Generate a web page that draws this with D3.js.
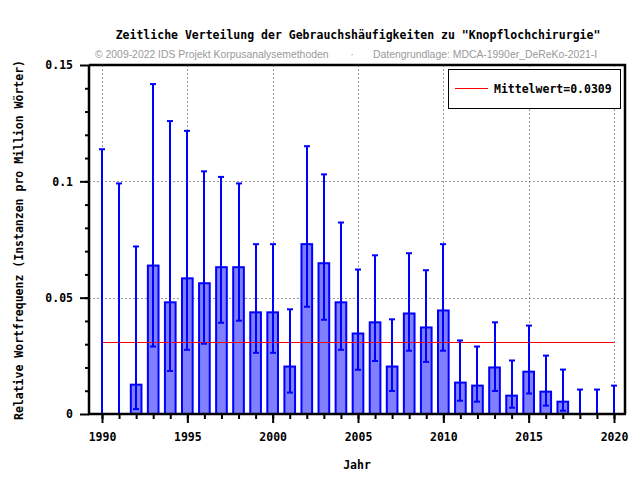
<!DOCTYPE html>
<html>
<head>
<meta charset="utf-8">
<script src="https://cdn.jsdelivr.net/npm/d3@7"></script>
<style>
  body { margin: 0; background: #fff; }
  svg { display: block; }
  .mono { font-family: "DejaVu Sans Mono", "Liberation Mono", monospace; font-weight: bold; font-size: 11.5px; }
</style>
</head>
<body>
<div id="chart"></div>
<script>
// data
const years = [1990,1991,1992,1993,1994,1995,1996,1997,1998,1999,
  2000,2001,2002,2003,2004,2005,2006,2007,2008,2009,
  2010,2011,2012,2013,2014,2015,2016,2017,2018,2019,2020];
const freq = [0,0,0.0126,0.0638,0.0480,0.0583,0.0562,0.0631,0.0631,0.0437,
  0.0437,0.0204,0.0730,0.0648,0.0480,0.0346,0.0394,0.0204,0.0432,0.0372,
  0.0445,0.0135,0.0122,0.0200,0.0079,0.0182,0.0096,0.0053,0,0,0];
const lower = [0,0,0.0021,0.0290,0.0185,0.0276,0.0302,0.0392,0.0401,0.0263,
  0.0263,0.0092,0.0461,0.0405,0.0276,0.0190,0.0228,0.0099,0.0272,0.0224,
  0.0272,0.0057,0.0053,0.0099,0.0027,0.0088,0.0036,0.0014,0,0,0];
const upper = [0.1138,0.0991,0.0720,0.1418,0.1259,0.1217,0.1043,0.1019,0.0991,0.0730,
  0.0730,0.0450,0.1151,0.1030,0.0823,0.0621,0.0682,0.0407,0.0691,0.0618,
  0.0730,0.0316,0.0290,0.0394,0.0230,0.0380,0.0251,0.0191,0.0105,0.0105,0.0122];
const mean = 0.0309;
const yTicks = [0, 0.05, 0.1, 0.15];
const yTickLabels = ['0', '0.05', '0.1', '0.15'];
const xTicks = [1990, 1995, 2000, 2005, 2010, 2015, 2020];

const title = 'Zeitliche Verteilung der Gebrauchshäufigkeiten zu "Knopflochchirurgie"';
const credit1 = '© 2009-2022 IDS Projekt Korpusanalysemethoden';
const credit2 = 'Datengrundlage: MDCA-1990er_DeReKo-2021-I';

const width = 640, height = 480;
const box = {l: 89, r: 625, t: 65, b: 414};

const svg = d3.select('#chart').append('svg')
  .attr('width', width).attr('height', height);

const x = d3.scaleLinear().domain([1990, 2020]).range([102, 614]);
const y = d3.scaleLinear().domain([0, 0.15]).range([box.b, box.t]);

// grid
const grid = svg.append('g').attr('class', 'grid')
  .style('stroke', '#999').style('stroke-width', 1).style('stroke-dasharray', '2,2');
grid.selectAll('.gx').data(xTicks).enter().append('line')
  .attr('x1', d => Math.round(x(d)) + 0.5).attr('x2', d => Math.round(x(d)) + 0.5)
  .attr('y1', box.t).attr('y2', box.b);
grid.selectAll('.gy').data([0.05, 0.1]).enter().append('line')
  .attr('y1', d => Math.round(y(d)) + 0.5).attr('y2', d => Math.round(y(d)) + 0.5)
  .attr('x1', box.l).attr('x2', box.r);

// bars
const bw = (x(1991) - x(1990)) * 0.625;
svg.append('g').selectAll('rect')
  .data(years.map((d, i) => ({year: d, v: freq[i]})).filter(d => d.v > 0))
  .enter().append('rect')
  .attr('x', d => x(d.year) - bw / 2)
  .attr('width', bw)
  .attr('y', d => y(d.v))
  .attr('height', d => y(0) - y(d.v))
  .style('fill', '#8080ff')
  .style('stroke', '#0000ff')
  .style('stroke-width', 2);

// mean line
svg.append('line')
  .attr('x1', x(1990)).attr('x2', x(2020))
  .attr('y1', Math.round(y(mean)) + 0.5).attr('y2', Math.round(y(mean)) + 0.5)
  .style('stroke', '#ff0000').style('stroke-width', 1);

// error bars
const err = svg.append('g').style('stroke', '#0000ff').style('stroke-width', 2);
years.forEach((yr, i) => {
  const cx = Math.round(x(yr));
  err.append('line').attr('x1', cx).attr('x2', cx).attr('y1', y(lower[i])).attr('y2', y(upper[i]));
  err.append('line').attr('x1', cx - 3).attr('x2', cx + 3).attr('y1', y(upper[i])).attr('y2', y(upper[i]));
  err.append('line').attr('x1', cx - 3).attr('x2', cx + 3).attr('y1', y(lower[i])).attr('y2', y(lower[i]));
});

// frame (top / right)
svg.append('path')
  .attr('d', `M${box.l},${box.t}H${box.r}V${box.b}`)
  .style('fill', 'none').style('stroke', '#000').style('stroke-width', 2.5);

// axes
const axisY = d3.axisLeft(y).tickValues(yTicks)
  .tickFormat((d, i) => yTickLabels[i]).tickSize(9).tickPadding(7).tickSizeOuter(0);
const axisYMinor = d3.axisLeft(y).tickValues(d3.range(1, 15).map(d => d / 100))
  .tickFormat('').tickSize(4).tickSizeOuter(0);
const axisX = d3.axisBottom(x).tickValues(xTicks).tickFormat(d3.format('d'))
  .tickSize(9).tickPadding(10).tickSizeOuter(0);
const axisXMinor = d3.axisBottom(x).tickValues(years).tickFormat('')
  .tickSize(5).tickSizeOuter(0);

const gy = svg.append('g').attr('transform', `translate(${box.l},0)`);
gy.call(axisYMinor);
gy.append('g').call(axisY);
const gx = svg.append('g').attr('transform', `translate(0,${box.b})`);
gx.call(axisXMinor);
gx.append('g').call(axisX);

svg.selectAll('.domain').remove();
svg.selectAll('.tick line').style('stroke', '#000').style('stroke-width', 2);
svg.selectAll('.tick text').attr('class', 'mono').style('fill', '#000')
  .style('font-family', '"DejaVu Sans Mono", monospace').style('font-weight', 'bold').style('font-size', '11.5px');

svg.append('line').attr('x1', box.l).attr('x2', box.l).attr('y1', box.t).attr('y2', box.b + 1)
  .style('stroke', '#000').style('stroke-width', 2.5);
svg.append('line').attr('x1', box.l - 1).attr('x2', box.r + 1).attr('y1', box.b).attr('y2', box.b)
  .style('stroke', '#000').style('stroke-width', 2.5);

// legend
const lg = svg.append('g');
lg.append('rect').attr('x', 448.5).attr('y', 69.5).attr('width', 172).attr('height', 39)
  .style('fill', '#fff').style('stroke', '#000').style('stroke-width', 1);
lg.append('line').attr('x1', 455).attr('x2', 488).attr('y1', 88.5).attr('y2', 88.5)
  .style('stroke', '#ff0000').style('stroke-width', 1);
lg.append('text').attr('class', 'mono').attr('x', 494).attr('y', 93)
  .text('Mittelwert=' + mean);

// titles
svg.append('text').attr('class', 'mono').attr('x', 358).attr('y', 39)
  .attr('text-anchor', 'middle').text(title);
const credits = svg.append('g').style('font-family', '"Liberation Sans", Arial, sans-serif')
  .style('font-size', '10.4px').style('fill', '#999');
credits.append('text').attr('x', 95).attr('y', 58).text(credit1);
credits.append('text').attr('x', 352).attr('y', 58).attr('text-anchor', 'middle').text('·');
credits.append('text').attr('x', 373).attr('y', 58).text(credit2);

svg.append('text').attr('class', 'mono').attr('x', 357).attr('y', 469)
  .attr('text-anchor', 'middle').text('Jahr');
svg.append('text').attr('class', 'mono')
  .attr('transform', 'translate(23,240) rotate(-90)')
  .attr('text-anchor', 'middle')
  .text('Relative Wortfrequenz (Instanzen pro Million Wörter)');
</script>
</body>
</html>
